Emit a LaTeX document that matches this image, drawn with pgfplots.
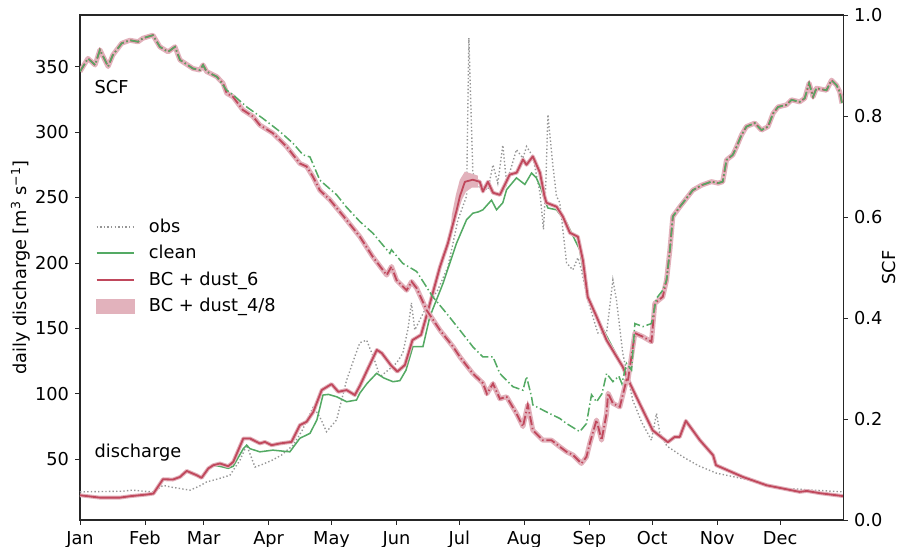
\documentclass[border=0pt]{standalone}
\usepackage{fontspec}
\setmainfont{DejaVu Sans}
\usepackage{pgfplots}
\usepackage{pgfplotstable}
\pgfplotsset{compat=1.18}
\usetikzlibrary{calc}
\definecolor{cred}{RGB}{192,72,92}
\definecolor{cgreen}{RGB}{84,170,100}
\definecolor{cband}{RGB}{226,178,188}
\definecolor{cobs}{RGB}{150,150,150}
\pgfplotsset{
  obsimg/.style={legend image code/.code={\draw[cobs, line width=1pt, dash pattern=on 1pt off 1.6pt] (0pt,0pt) -- (27pt,0pt);}},
  greenimg/.style={legend image code/.code={\draw[draw=cgreen, line width=1.4pt, solid] (0pt,0.3pt) -- (27pt,0.3pt);}},
  redimg/.style={legend image code/.code={\draw[draw=cred, line width=1.4pt, solid] (0pt,0pt) -- (27pt,0pt);}},
  bandimg/.style={legend image code/.code={\fill[cband] (0pt,-5pt) rectangle (27pt,5pt);}},
}

\pgfplotstableread{
d v
0 22.4
9.5 20.6
19 20.6
24 21.7
32 23.0
35 23.7
39.6 34.7
44.3 34.4
47.7 36.4
50.9 41.0
55.7 37.7
58 35.7
61.2 42.9
63.6 45.4
66.8 46.7
70.7 44.6
73.1 47.9
77.9 65.8
81.1 65.8
85.8 62.0
88.2 63.2
91.4 60.7
95.4 62.0
100.9 63.2
104.9 76.0
108.1 78.6
111.3 86.2
115.3 102.8
120 107.4
123.2 101.5
127.2 102.8
131.1 99.0
133.5 106
137 118
141.6 133.5
144 131
148.2 122
151.4 116.9
155 122
158.6 141
162.7 145
165.7 161.8
171.7 197
175.5 215
179.7 240.6
181.2 250.8
183.6 262
187.4 263.6
190.7 262
192.2 254.6
194.6 262
197 253.7
200.3 252
205 267.5
208.3 269
211.3 279
213 275
216 281.4
219.4 269
221.6 250.8
222.5 246
227.3 243
230.3 235.5
233.7 223
237.5 220
239.9 202
242.2 174
246.4 159
251.2 141
258.9 120.6
262.3 108
267.1 92
273.2 72
280.4 63
283.7 67
286.1 67
289 79.3
295.7 64.5
302 53
303.4 45.4
316.2 36.4
327.6 30
343.3 25
346.7 25.7
352.9 24
363.4 21.9
364 21.8
}\redQ

\pgfplotstableread{
d v
0 22.4
9.5 20.6
19 20.6
24 21.7
32 23.0
35 23.7
39.6 34.7
44.3 34.4
47.7 36.4
50.9 41.0
55.7 37.7
58 35.7
61.2 42.9
63.6 45.4
66.8 44.5
70.7 43
73.1 44.6
77.9 58
79.5 60.7
81.1 58
85.8 55.6
92 56.9
100.1 55.6
104.9 66
109.7 69.7
113 80
115.9 99
118.5 99.5
122.4 97.7
127.2 93.9
131.9 95.2
133.5 100.5
137 108
141.5 115.6
145 112
149.3 109.2
152.6 110
155.5 118
158.8 136
163.6 136
166.9 159
173.2 184.5
179.6 215
184.4 233
187.4 238
190 239
192.2 240.6
196.3 248
198.7 240.6
201.7 246
203.5 256
208.2 265
212.2 260
215.4 268.7
217.7 265
220.1 256
221.7 248
223.2 242
227.3 240.6
232.1 230.7
238.4 210
242.2 174
248 154
258.9 120.6
262.3 108
267.1 92
273.2 72
280.4 63
}\greenQ

\pgfplotstableread{
d v
0 25
20 25.5
25 26.3
32 25.3
35 25
39.6 30
44 28.5
48 27.5
52.5 26.3
57.2 29.6
60.4 32.6
66 35
71.5 37.7
76.3 49.2
79.5 60.7
83.5 44
87 46
91.4 49
96 53
101.7 60.7
106 72
111.3 90
114.5 82
117.6 71
122.4 80
127.2 110.5
131 128
133.5 139
136.7 141
140 128
143.1 113
147 118
151 123.5
154 131
156.5 150
158.1 169.5
159.7 148.8
164.5 164
170.7 179.4
175.5 197
180.3 233
184.4 251
185.5 372
187.4 269
189.8 258.5
194.6 256
197 275
199.3 261
201.7 290
203.5 261
208.2 286.6
211.3 280
213 289
216 281.4
219.4 253.7
221.1 225.6
222.2 260
223.2 313.4
225.6 274
227.3 251
228.9 246
232.1 200
235.1 194.7
237.5 204
239.2 194.7
242.2 171.7
247 146.5
251.2 146.5
254.2 187
255.9 171.7
258.9 131
263.7 95
268 78
272.6 64.5
275 85
276.6 70
280 60
287.6 51.8
295 45
303.6 39.3
319.5 34
335.2 27.8
348.1 26.5
364 25
}\obsQ

\pgfplotstableread{
d v
0 0.888
3.8 0.914
7.2 0.901
9.5 0.931
13.4 0.898
15.7 0.921
19.9 0.944
23.8 0.950
27.7 0.947
30 0.954
34.8 0.960
38.1 0.937
42 0.927
45.3 0.937
47.7 0.911
53.9 0.894
57.2 0.891
58.7 0.901
60.4 0.888
65.2 0.878
68.2 0.865
70 0.845
73 0.838
77.7 0.812
82.5 0.799
85.8 0.782
92 0.766
98.6 0.739
104.9 0.706
108.1 0.700
111.1 0.680
114.4 0.653
119.2 0.634
126 0.600
133.5 0.561
139.7 0.521
146.3 0.485
148.6 0.502
151 0.475
155.8 0.455
158.2 0.472
160.6 0.459
165.3 0.416
171.7 0.376
178 0.343
181.2 0.323
187.4 0.290
192.2 0.271
194.1 0.250
197 0.270
200.3 0.240
203.5 0.244
208.2 0.211
211.3 0.185
213.6 0.228
216 0.178
220.8 0.158
224.9 0.158
228.9 0.145
232.1 0.135
235.1 0.129
239.2 0.112
241.6 0.125
243.2 0.152
246.4 0.198
248.8 0.158
251.2 0.211
251.9 0.251
254.2 0.231
257.5 0.224
260.7 0.277
261.3 0.274
264.7 0.370
268.5 0.363
272.6 0.353
274.2 0.429
278 0.442
279.8 0.475
281.4 0.535
282.8 0.601
286.1 0.620
289.3 0.637
292.3 0.653
296.5 0.663
301.2 0.670
304.4 0.667
306.6 0.670
308.4 0.713
311.4 0.723
313.2 0.739
315.5 0.762
317.9 0.779
321.9 0.786
325.1 0.772
328.2 0.779
330.6 0.805
333 0.818
337 0.822
339.4 0.832
343.3 0.828
345.7 0.835
347.8 0.865
349.7 0.838
351.3 0.855
356.1 0.851
358.5 0.871
360.9 0.861
362.4 0.848
363.5 0.825
}\redS

\pgfplotstableread{
d v
0 0.888
3.8 0.914
7.2 0.901
9.5 0.931
13.4 0.898
15.7 0.921
19.9 0.944
23.8 0.950
27.7 0.947
30 0.954
34.8 0.960
38.1 0.937
42 0.927
45.3 0.937
47.7 0.911
53.9 0.894
57.2 0.891
58.7 0.901
60.4 0.888
65.2 0.878
70 0.851
73 0.842
79.5 0.818
87.3 0.795
95.4 0.769
101.6 0.746
106.4 0.723
109.7 0.719
114.4 0.673
122.4 0.644
127 0.620
133.5 0.591
139.7 0.568
147.8 0.528
148.6 0.535
154 0.508
158.2 0.498
160.6 0.492
168.3 0.442
174.9 0.409
181.2 0.376
187.4 0.343
192.2 0.323
197 0.323
200.3 0.290
206.5 0.264
211.3 0.257
213 0.284
215.4 0.244
216 0.228
222.5 0.214
228.9 0.201
232.1 0.191
238.4 0.175
241.6 0.191
244 0.248
246.4 0.234
249 0.250
251.2 0.290
254.2 0.274
257 0.285
258.5 0.270
260.7 0.310
263.1 0.297
264.7 0.389
268.5 0.383
272.6 0.389
275 0.439
278 0.455
279.8 0.475
281.4 0.535
282.8 0.601
286.1 0.620
289.3 0.637
292.3 0.653
296.5 0.663
301.2 0.670
304.4 0.667
306.6 0.670
308.4 0.713
311.4 0.723
313.2 0.739
315.5 0.762
317.9 0.779
321.9 0.786
325.1 0.772
328.2 0.779
330.6 0.805
333 0.818
337 0.822
339.4 0.832
343.3 0.828
345.7 0.835
347.8 0.865
349.7 0.838
351.3 0.855
356.1 0.851
358.5 0.871
360.9 0.861
362.4 0.848
363.5 0.825
}\greenS

\begin{document}
\fontsize{12.8}{15}\selectfont
\begin{tikzpicture}
\pgfplotsset{
  every axis/.append style={
    scale only axis, width=549.4pt, height=363.6pt,
    xmin=0, xmax=364,
    tick align=outside, major tick length=3.5pt,
    every tick/.style={black!85, line width=0.6pt},
    axis line style={black!85, line width=0.8pt},
    tick label style={font=\fontsize{12.8}{15}\selectfont},
    label style={font=\fontsize{12.8}{15}\selectfont},
    /pgf/number format/assume math mode=true,
  },
  dashdot/.style={dash pattern=on 6.5pt off 2pt on 1pt off 2pt},
}
\begin{axis}[
  name=ax,
  ymin=3.5, ymax=389.5,
  ytick={50,100,...,350},
  xtick={0,31,59,90,120,151,181,212,243,273,304,334},
  xticklabels={Jan,Feb,Mar,Apr,May,Jun,Jul,Aug,Sep,Oct,Nov,Dec},
  xtick pos=bottom, ytick pos=left,
  ylabel={daily discharge [m\textsuperscript{3} s\textsuperscript{−1}]},
  ylabel style={yshift=-5pt},
  legend style={at={(0.02,0.602)}, anchor=north west, draw=none, fill=none,
    inner sep=0pt, font=\fontsize{12.8}{15}\selectfont, row sep=3.4pt,
    /tikz/every odd column/.append style={column sep=8pt}},
  legend cell align=left,
]
\addlegendimage{obsimg}
\addlegendentry{obs}
\addlegendimage{greenimg}
\addlegendentry{clean}
\addlegendimage{redimg}
\addlegendentry{BC + dust\_6}
\addlegendimage{bandimg}
\addlegendentry{BC + dust\_4/8}

\addplot[forget plot, color=cobs, line width=1pt, dash pattern=on 1pt off 1.6pt] table[x=d,y=v] {\obsQ};
\addplot[forget plot, color=cgreen, line width=1.1pt] table[x=d,y=v] {\greenQ};
\addplot[forget plot, color=cband, line width=2.8pt, line join=round] table[x=d,y=v] {\redQ};
\addplot[forget plot, fill=cband, draw=none] coordinates {
 (176.4,217.7) (177.4,236.8) (179.3,252.1) (181.2,263.6) (183.6,269.8) (186.9,268.2) (189.8,266.7)
 (189.8,257.5) (186.9,257.5) (184.1,254.4) (182.2,248.3) (180.3,239.1) (178.4,228.4) (176.4,217.7)};
\addplot[forget plot, color=cred, line width=1.3pt, line join=round] table[x=d,y=v] {\redQ};
\node[anchor=west] at (rel axis cs:0.011,0.857) {SCF};
\node[anchor=west] at (rel axis cs:0.011,0.133) {discharge};
\end{axis}
\begin{axis}[
  ymin=0, ymax=1,
  axis x line=none, axis y line*=right,
  ytick={0,0.2,...,1.0},
  yticklabel style={/pgf/number format/.cd, fixed, fixed zerofill, precision=1},
  ylabel={SCF},
  ylabel style={yshift=9pt},
]
\addplot[color=cband, line width=3.6pt, line join=round] table[x=d,y=v] {\redS};
\addplot[color=cred, line width=1.3pt, dashdot] table[x=d,y=v] {\redS};
\addplot[color=cgreen, line width=1.1pt, dashdot] table[x=d,y=v] {\greenS};
\end{axis}
\pgfresetboundingbox
\path[use as bounding box] ($(ax.south west)+(-57.6pt,-19.4pt)$) rectangle ($(ax.north east)+(41pt,10.8pt)$);
\end{tikzpicture}
\end{document}
